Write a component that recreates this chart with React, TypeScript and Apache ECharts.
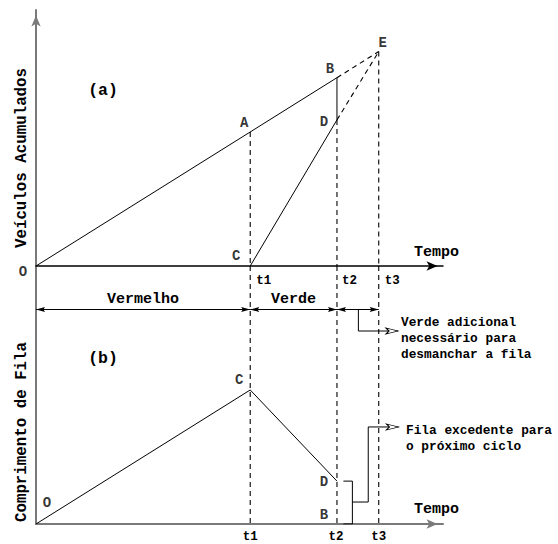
import React, { useEffect, useRef } from 'react';
import * as echarts from 'echarts';

// ---------------- data ----------------
const tickTimes = [10, 14.05, 16];
const tickNames = ['t1', 't2', 't3'];

// Panel (a): cumulative vehicles
const arrivalLine = [[0, 0], [14.05, 14.05]]; // O -> B
const arrivalExtension = [[14.05, 14.05], [16, 16]]; // B -> E
const departureLine = [[10, 0], [14.05, 10.9]]; // C -> D
const departureExtension = [[14.05, 10.9], [16, 16]]; // D -> E
const residualQueue = [[14.05, 14.05], [14.05, 10.9]]; // B -> D
const pointNamesA = ['O', 'A', 'B', 'C', 'D', 'E'];
const pointTimesA = [0, 10, 14.05, 10, 14.05, 16];
const pointValuesA = [0, 10, 14.05, 0, 10.9, 16];
const dropTopsA = [10, 10.9, 16]; // A, D, E

// Panel (b): queue length
const queueTimes = [0, 10, 14.05];
const queueValues = [0, 10, 3.2];
const pointNamesB = ['O', 'C', 'D', 'B'];
const pointTimesB = [0, 10, 14.05, 14.05];
const pointValuesB = [0, 10, 3.2, 0];

// signal phases
const phaseNames = ['Vermelho', 'Verde', ''];
const phaseStarts = [0, 10, 14.05];
const phaseEnds = [10, 14.05, 16];
const phaseLevel = 16;

// callouts (panel b coordinates)
const callout1 = [[15.05, 16], [15.05, 14.4], [16.9, 14.4]];
const bracket = [[14.35, 3.2], [14.77, 3.2], [14.77, 0], [14.35, 0]];
const callout2 = [[14.77, 1.64], [15.51, 1.64], [15.51, 7.24], [16.92, 7.24]];

const extraGreenNote = ['Verde adicional', 'necessário para', 'desmanchar a fila'];
const overflowNote = ['Fila excedente para', 'o próximo ciclo'];

const xMax = 19;
const yMaxA = 19.1;
const yMaxB = 19.25;

// ---------------- styles ----------------
const FONT = 'Liberation Mono, DejaVu Sans Mono, monospace';
const labelOffsetA: Record<string, number[]> = {
  O: [-13, 6], A: [-6, -9], B: [-7, -9], C: [-14, -10], D: [-13, 2], E: [4, -9],
};
const labelOffsetB: Record<string, number[]> = {
  O: [11, -21], C: [-11, -10], D: [-13, 1], B: [-13, -9],
};
const OPEN_ARROW = 'path://M0,0L12,3L0,6L3,3Z';
const PHASE_ARROW = 'path://M0,0L18,0M9,9L11.5,18L9,16.5L6.5,18Z';

export default function App() {
  const ref = useRef<HTMLDivElement>(null);

  useEffect(() => {
    if (!ref.current) return;
    const chart = echarts.init(ref.current, undefined, { renderer: 'svg' });

    const seg = (data: number[][], axis: number, dashed = false): any => ({
      type: 'line',
      xAxisIndex: axis,
      yAxisIndex: axis,
      data,
      symbol: 'none',
      silent: true,
      z: 3,
      lineStyle: { color: '#000', width: dashed ? 1.1 : 1, type: dashed ? [5, 4] : 'solid' },
    });

    const arrowSeg = (pts: number[][]): any => ({
      type: 'line',
      xAxisIndex: 1,
      yAxisIndex: 1,
      silent: true,
      showSymbol: true,
      symbol: 'none',
      z: 4,
      lineStyle: { color: '#000', width: 1 },
      data: pts.map((p, i) =>
        i === pts.length - 1
          ? {
              value: p,
              symbol: OPEN_ARROW,
              symbolSize: [12, 6],
              symbolOffset: [-6, 0],
              itemStyle: { color: '#fff', borderColor: '#000', borderWidth: 1 },
            }
          : { value: p, symbol: 'none' }
      ),
    });

    const pointLabels = (names: string[], xs: number[], ys: number[], axis: number, offs: Record<string, number[]>): any => ({
      type: 'scatter',
      xAxisIndex: axis,
      yAxisIndex: axis,
      symbolSize: 1,
      silent: true,
      z: 5,
      itemStyle: { color: 'transparent' },
      data: names.map((n, i) => ({
        name: n,
        value: [xs[i], ys[i]],
        label: { offset: offs[n] },
      })),
      label: {
        show: true,
        position: 'inside',
        formatter: '{b}',
        color: '#000',
        fontFamily: FONT,
        fontWeight: 'bold',
        fontSize: 14,
      },
    });

    const series: any[] = [
      seg(arrivalLine, 0),
      seg(arrivalExtension, 0, true),
      seg(departureLine, 0),
      seg(departureExtension, 0, true),
      seg(residualQueue, 0),
      ...tickTimes.map((t, i) => seg([[t, dropTopsA[i]], [t, 0]], 0, true)),
      ...tickTimes.map((t) => seg([[t, yMaxB], [t, 0]], 1, true)),
      {
        ...seg(queueTimes.map((t, i) => [t, queueValues[i]]), 1),
        markLine: {
          silent: true,
          symbol: [PHASE_ARROW, PHASE_ARROW],
          symbolSize: 18,
          lineStyle: { color: '#000', width: 1, type: 'solid' },
          label: {
            show: true,
            position: 'middle',
            formatter: '{b}',
            distance: 3,
            color: '#000',
            fontFamily: FONT,
            fontWeight: 'bold',
            fontSize: 15,
          },
          emphasis: { disabled: true },
          data: phaseStarts.map((s, i) => [
            { coord: [s, phaseLevel], name: phaseNames[i] },
            { coord: [phaseEnds[i], phaseLevel] },
          ]),
        },
      },
      arrowSeg(callout1),
      seg(bracket, 1),
      arrowSeg(callout2),
      pointLabels(pointNamesA, pointTimesA, pointValuesA, 0, labelOffsetA),
      pointLabels(pointNamesB, pointTimesB, pointValuesB, 1, labelOffsetB),
    ];

    const tickFormatter = (v: number) => {
      const i = tickTimes.findIndex((t) => Math.abs(t - v) < 0.3);
      return i >= 0 ? tickNames[i] : '';
    };

    const xAxisBase = (idx: number, color: string, width: number, labelCfg: any, nameLine: number): any => ({
      type: 'value',
      gridIndex: idx,
      min: 0,
      max: xMax,
      interval: 1,
      name: 'Tempo',
      nameLocation: 'end',
      nameGap: 16,
      nameTextStyle: {
        align: 'right',
        verticalAlign: 'bottom',
        lineHeight: nameLine,
        color: '#000',
        fontFamily: FONT,
        fontWeight: 'bold',
        fontSize: 15,
      },
      axisLine: {
        show: true,
        lineStyle: { color, width },
        symbol: ['none', 'arrow'],
        symbolSize: [7, 11],
        symbolOffset: [0, -5.5],
      },
      axisTick: { show: false },
      splitLine: { show: false },
      axisLabel: {
        interval: 0,
        formatter: tickFormatter,
        color: '#000',
        fontFamily: FONT,
        fontWeight: 'bold',
        fontSize: 12.5,
        ...labelCfg,
      },
    });

    chart.setOption({
      animation: false,
      backgroundColor: '#fff',
      grid: [
        { left: 36, top: 10, width: 407, height: 256 },
        { left: 36, top: 266, width: 407, height: 258 },
      ],
      xAxis: [
        xAxisBase(0, '#000', 1.5, { align: 'left', padding: [0, 0, 0, 6], margin: 8 }, 28),
        xAxisBase(1, '#7a7a7a', 2, { align: 'center', margin: 6 }, 30),
      ],
      yAxis: [
        {
          type: 'value',
          gridIndex: 0,
          min: 0,
          max: yMaxA,
          axisLine: {
            show: true,
            lineStyle: { color: '#7a7a7a', width: 2 },
            symbol: ['none', 'arrow'],
            symbolSize: [7, 11],
            symbolOffset: [0, -5.5],
          },
          axisTick: { show: false },
          axisLabel: { show: false },
          splitLine: { show: false },
        },
        {
          type: 'value',
          gridIndex: 1,
          min: 0,
          max: yMaxB,
          axisLine: { show: true, lineStyle: { color: '#7a7a7a', width: 2 } },
          axisTick: { show: false },
          axisLabel: { show: false },
          splitLine: { show: false },
        },
      ],
      graphic: [
        {
          type: 'text', x: 103, y: 90,
          style: { text: '(a)', font: `bold 16.5px ${FONT}`, fill: '#000', align: 'center', verticalAlign: 'middle' },
        },
        {
          type: 'text', x: 103, y: 358,
          style: { text: '(b)', font: `bold 16.5px ${FONT}`, fill: '#000', align: 'center', verticalAlign: 'middle' },
        },
        {
          type: 'text', x: 22, y: 158, rotation: Math.PI / 2,
          style: { text: 'Veículos Acumulados', font: `bold 15.8px ${FONT}`, fill: '#000', align: 'center', verticalAlign: 'middle' },
        },
        {
          type: 'text', x: 22, y: 432, rotation: Math.PI / 2,
          style: { text: 'Comprimento de Fila', font: `bold 15.8px ${FONT}`, fill: '#000', align: 'center', verticalAlign: 'middle' },
        },
        {
          type: 'text', x: 401, y: 314,
          style: { text: extraGreenNote.join('\n'), font: `bold 12.8px ${FONT}`, lineHeight: 16, fill: '#000', align: 'left', verticalAlign: 'top' },
        },
        {
          type: 'text', x: 406, y: 422,
          style: { text: overflowNote.join('\n'), font: `bold 12.8px ${FONT}`, lineHeight: 16, fill: '#000', align: 'left', verticalAlign: 'top' },
        },
      ],
      series,
    });

    return () => chart.dispose();
  }, []);

  return (
    <div
      ref={ref}
      style={{ position: 'fixed', left: 0, top: 0, width: 558, height: 544, background: '#fff' }}
    />
  );
}
